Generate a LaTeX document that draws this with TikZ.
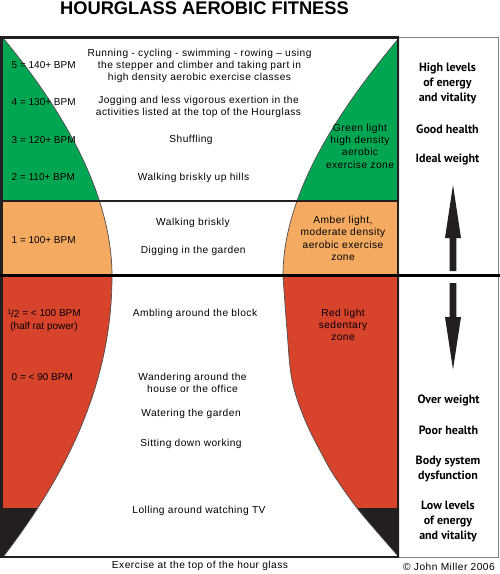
\documentclass[tikz,border=0pt]{standalone}
\usepackage{fontspec}
\setmainfont{Liberation Sans}
\newfontfamily\spaced[LetterSpace=4.5]{Liberation Sans}
\newfontfamily\sidefont{PT Sans}
\definecolor{zgreen}{RGB}{0,166,81}
\definecolor{zamber}{RGB}{244,170,97}
\definecolor{zred}{RGB}{216,67,44}
\definecolor{zblack}{RGB}{35,31,32}
\definecolor{zline}{RGB}{35,31,32}
\tikzset{
  mid/.style={font=\spaced\fontsize{10.2}{12.2}\selectfont, align=center, inner sep=0pt},
  bpm/.style={font=\fontsize{10}{12.2}\selectfont, anchor=west, inner sep=0pt},
  side/.style={font=\sidefont\bfseries\fontsize{12}{15}\selectfont, align=center, inner sep=0pt},
  curve/.style={draw=zline!80, line width=0.7pt},
}
\begin{document}
\begin{tikzpicture}[x=1pt, y=-1pt]
\useasboundingbox (0,0) rectangle (500,574);
\fill[white] (0,0) rectangle (500,574);

% left coloured region
\begin{scope}
\clip (3,38) .. controls (58,104) and (112,190) .. (112,276) .. controls (112,375) and (74,465) .. (3,557) -- cycle;
\fill[zgreen] (0,30) rectangle (200,201);
\fill[zamber] (0,201) rectangle (200,275);
\fill[zred] (0,275) rectangle (200,508);
\fill[zblack] (0,508) rectangle (200,560);
\end{scope}
% right coloured region
\begin{scope}
\clip (399,38) .. controls (344,104) and (283,190) .. (283,276) -- plot[smooth, tension=0.6] coordinates {(283,276) (287,330) (292,380) (305,420) (325,460) (337,480) (357,508) (378,533) (399,557)} -- cycle;
\fill[zgreen] (200,30) rectangle (400,201);
\fill[zamber] (200,201) rectangle (400,275);
\fill[zred] (200,275) rectangle (400,508);
\fill[zblack] (200,508) rectangle (400,560);
\end{scope}
% curve outlines
\draw[curve] (3,38) .. controls (58,104) and (112,190) .. (112,276) .. controls (112,375) and (74,465) .. (3,557);
\draw[curve] (399,38) .. controls (344,104) and (283,190) .. (283,276) -- plot[smooth, tension=0.6] coordinates {(283,276) (287,330) (292,380) (305,420) (325,460) (337,480) (357,508) (378,533) (399,557)};

% dividers and borders
\draw[zline, line width=1.6pt] (3,201) -- (398,201);
\draw[gray, line width=0.9pt] (398,37.5) -- (498.5,37.5) -- (498.5,557) -- (398,557);
\draw[zline, line width=2.8pt] (1.5,37.5) rectangle (398,557);
\draw[black, line width=3pt] (0,275) -- (500,275);

% arrows
\fill[zblack] (453,185) -- (461,238) -- (456.3,238) -- (456.3,271) -- (449.7,271) -- (449.7,238) -- (445,238) -- cycle;
\fill[zblack] (453,369.5) -- (461,317) -- (456.3,317) -- (456.3,283) -- (449.7,283) -- (449.7,317) -- (445,317) -- cycle;

% title
\node[font=\bfseries\fontsize{18.3}{20}\selectfont, inner sep=0pt] (title) at (204.5,8.3) {HOURGLASS AEROBIC FITNESS};

% BPM labels
\node[bpm] (b5) at (11.5,65.5) {5 = 140+ BPM};
\node[bpm] (b4) at (11.5,102) {4 = 130+ BPM};
\node[bpm] (b3) at (11.5,140) {3 = 120+ BPM};
\node[bpm] (b2) at (11.5,177.5) {2 = 110+ BPM};
\node[bpm] (b1) at (11.5,240) {1 = 100+ BPM};
\node[bpm, anchor=center, align=center] (bh) at (44,320.3) {\raisebox{2.5pt}{\fontsize{7}{7}\selectfont 1}\raisebox{-1pt}{/2} = < 100 BPM\\(half rat power)};
\node[bpm] (b0) at (11.5,377) {0 = < 90 BPM};

% activities
\node[mid] (t5) at (199.5,65.6) {Running - cycling - swimming - rowing – using\\the stepper and climber and taking part in\\high density aerobic exercise classes};
\node[mid] (t4) at (198.5,107.2) {Jogging and less vigorous exertion in the\\activities listed at the top of the Hourglass};
\node[mid] (t3) at (191,139.5) {Shuffling};
\node[mid] (t2) at (193.5,177.7) {Walking briskly up hills};
\node[mid] (t1a) at (193,223.3) {Walking briskly};
\node[mid] (t1b) at (193.3,250.7) {Digging in the garden};
\node[mid] (th) at (195,313.5) {Ambling around the block};
\node[mid] (t0a) at (192.5,382.5) {Wandering around the\\house or the office};
\node[mid] (t0b) at (191,414) {Watering the garden};
\node[mid] (t0c) at (191,444) {Sitting down working};
\node[mid] (t0d) at (199,510.7) {Lolling around watching TV};

% zones
\node[mid] (zg) at (360,146.2) {Green light\\high density\\aerobic\\exercise zone};
\node[mid] (za) at (343,238.4) {Amber light,\\moderate density\\aerobic exercise\\zone};
\node[mid] (zr) at (343,324.6) {Red light\\sedentary\\zone};

% right column
\node[side] (s1) at (447.5,83.3) {High levels\\of energy\\and vitality};
\node[side] (s2) at (447.5,129) {Good health};
\node[side] (s3) at (447.5,159.3) {Ideal weight};
\node[side] (s4) at (448.5,400) {Over weight};
\node[side] (s5) at (448.5,430.7) {Poor health};
\node[side] (s6) at (448,469) {Body system\\dysfunction};
\node[side] (s7) at (448,522) {Low levels\\of energy\\and vitality};

% footer
\node[mid] (foot) at (200,565.7) {Exercise at the top of the hour glass};
\node[mid] (copy) at (449,567.3) {© John Miller 2006};
\end{tikzpicture}
\end{document}
